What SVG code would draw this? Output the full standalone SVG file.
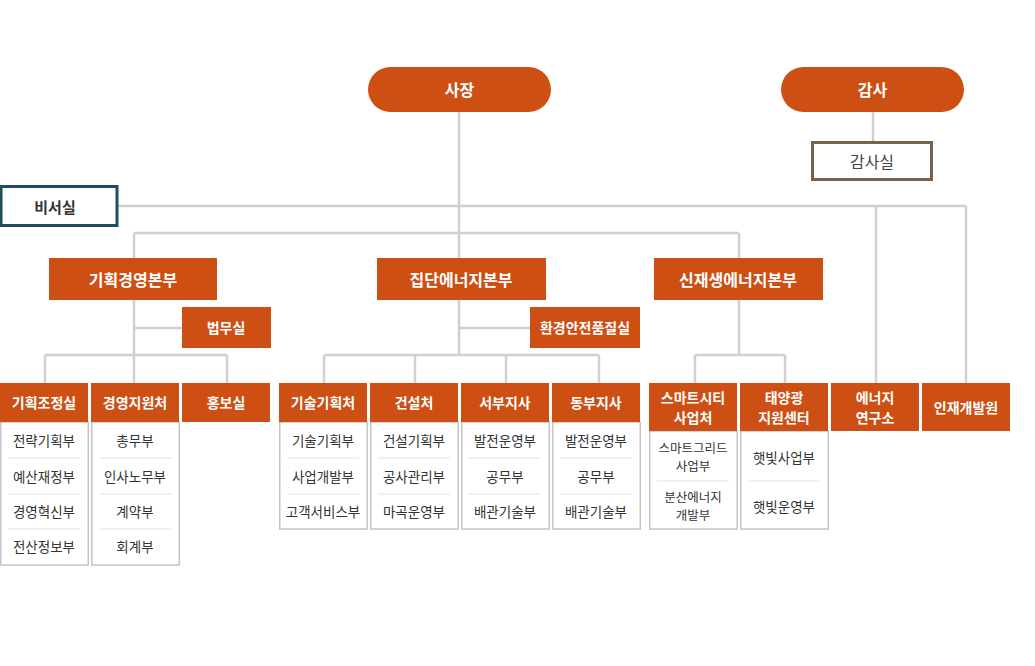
<svg xmlns="http://www.w3.org/2000/svg" width="1035" height="666" viewBox="0 0 1035 666">
<style>
text{font-family:"Noto Sans CJK KR","Noto Sans",sans-serif;text-anchor:middle;dominant-baseline:central}
.o{fill:#cd4f14}
.w{fill:#fff;font-weight:bold;font-size:14px}
.wl{fill:#fff;font-weight:bold;font-size:16px}
.l{fill:#fff;stroke:#c4c4c4;stroke-width:1.5}
.t{fill:#333;font-size:13.5px}
.s{stroke:#e2e2e2;stroke-width:1}
.c{stroke:#d0d0d0;stroke-width:2.5;fill:none}
</style>
<rect width="1035" height="666" fill="#fff"/>
<g id="connectors" class="c">
<path d="M459 112V355M873 112V142M118 206H966M876 206V383M966 206V383M134 233H739M134 233V258M739 233V258M459 233V258"/>
<path d="M134 300V355M134 328H182M459 328H530M739 300V355"/>
<path d="M45 355H227M45 355V383M134 355V383M227 355V383"/>
<path d="M324 355H599M324 355V383M415 355V383M506 355V383M599 355V383"/>
<path d="M695 355H785M695 355V383M785 355V383"/>
</g>
<g id="n-ceo"><rect class="o" x="368" y="67" width="183" height="45" rx="22.5"/><text class="wl" x="459.5" y="89">사장</text></g>
<g id="n-audit"><rect class="o" x="781" y="67" width="183" height="45" rx="22.5"/><text class="wl" x="872.5" y="89">감사</text></g>
<g id="n-auditoffice"><rect x="812.5" y="142.5" width="119" height="37" fill="#fff" stroke="#7b6149" stroke-width="3"/><text x="872" y="161" style="fill:#444;font-size:16px">감사실</text></g>
<g id="n-secretary"><rect x="1" y="186.5" width="116" height="39" fill="#fff" stroke="#1e4d5e" stroke-width="3"/><text x="55" y="206" style="fill:#333;font-size:15px;font-weight:bold">비서실</text></g>
<g id="n-hq1"><rect class="o" x="49" y="258" width="168" height="42"/><text class="wl" x="133" y="279">기획경영본부</text></g>
<g id="n-hq2"><rect class="o" x="377" y="258" width="169" height="42"/><text class="wl" x="461" y="279">집단에너지본부</text></g>
<g id="n-hq3"><rect class="o" x="654" y="258" width="169" height="42"/><text class="wl" x="738" y="279">신재생에너지본부</text></g>
<g id="n-legal"><rect class="o" x="182" y="307" width="89" height="41"/><text class="w" x="226" y="327">법무실</text></g>
<g id="n-safety"><rect class="o" x="530" y="307" width="110" height="41"/><text class="w" x="585" y="327">환경안전품질실</text></g>

<g id="n-d1"><rect class="l" x="0.75" y="422" width="87.5" height="143"/><rect class="o" x="0" y="383" width="88" height="39"/><text class="w" x="44" y="402">기획조정실</text>
<text class="t" x="44" y="440">전략기획부</text><text class="t" x="44" y="476">예산재정부</text><text class="t" x="44" y="511">경영혁신부</text><text class="t" x="44" y="546">전산정보부</text>
<path class="s" d="M8 458H80M8 494H80M8 529H80"/></g>
<g id="n-d2"><rect class="l" x="91.75" y="422" width="87.5" height="143"/><rect class="o" x="91" y="383" width="88" height="39"/><text class="w" x="135" y="402">경영지원처</text>
<text class="t" x="135" y="440">총무부</text><text class="t" x="135" y="476">인사노무부</text><text class="t" x="135" y="511">계약부</text><text class="t" x="135" y="546">회계부</text>
<path class="s" d="M99 458H171M99 494H171M99 529H171"/></g>
<g id="n-d3"><rect class="o" x="182" y="383" width="88" height="39"/><text class="w" x="226" y="402">홍보실</text></g>

<g id="n-d4"><rect class="l" x="279.75" y="422" width="87.5" height="107"/><rect class="o" x="279" y="383" width="88" height="39"/><text class="w" x="323" y="402">기술기획처</text>
<text class="t" x="323" y="440">기술기획부</text><text class="t" x="323" y="476">사업개발부</text><text class="t" x="323" y="511">고객서비스부</text>
<path class="s" d="M287 458H359M287 494H359"/></g>
<g id="n-d5"><rect class="l" x="370.75" y="422" width="87.5" height="107"/><rect class="o" x="370" y="383" width="88" height="39"/><text class="w" x="414" y="402">건설처</text>
<text class="t" x="414" y="440">건설기획부</text><text class="t" x="414" y="476">공사관리부</text><text class="t" x="414" y="511">마곡운영부</text>
<path class="s" d="M378 458H450M378 494H450"/></g>
<g id="n-d6"><rect class="l" x="461.75" y="422" width="87.5" height="107"/><rect class="o" x="461" y="383" width="88" height="39"/><text class="w" x="505" y="402">서부지사</text>
<text class="t" x="505" y="440">발전운영부</text><text class="t" x="505" y="476">공무부</text><text class="t" x="505" y="511">배관기술부</text>
<path class="s" d="M469 458H541M469 494H541"/></g>
<g id="n-d7"><rect class="l" x="552.75" y="422" width="87.5" height="107"/><rect class="o" x="552" y="383" width="88" height="39"/><text class="w" x="596" y="402">동부지사</text>
<text class="t" x="596" y="440">발전운영부</text><text class="t" x="596" y="476">공무부</text><text class="t" x="596" y="511">배관기술부</text>
<path class="s" d="M560 458H632M560 494H632"/></g>

<g id="n-d8"><rect class="l" x="649.75" y="431" width="87.5" height="98"/><rect class="o" x="649" y="383" width="88" height="48"/><text class="w" x="693" y="397">스마트시티</text><text class="w" x="693" y="417">사업처</text>
<text class="t" x="693" y="447" style="font-size:12.5px">스마트그리드</text><text class="t" x="693" y="465" style="font-size:12.5px">사업부</text><text class="t" x="693" y="496" style="font-size:12.5px">분산에너지</text><text class="t" x="693" y="514" style="font-size:12.5px">개발부</text>
<path class="s" d="M657 481H729"/></g>
<g id="n-d9"><rect class="l" x="740.75" y="431" width="87.5" height="98"/><rect class="o" x="740" y="383" width="88" height="48"/><text class="w" x="784" y="397">태양광</text><text class="w" x="784" y="417">지원센터</text>
<text class="t" x="784" y="457">햇빛사업부</text><text class="t" x="784" y="506">햇빛운영부</text>
<path class="s" d="M748 481H820"/></g>
<g id="n-d10"><rect class="o" x="831" y="383" width="88" height="48"/><text class="w" x="875" y="397">에너지</text><text class="w" x="875" y="417">연구소</text></g>
<g id="n-d11"><rect class="o" x="922" y="383" width="88" height="48"/><text class="w" x="966" y="407">인재개발원</text></g>
</svg>
